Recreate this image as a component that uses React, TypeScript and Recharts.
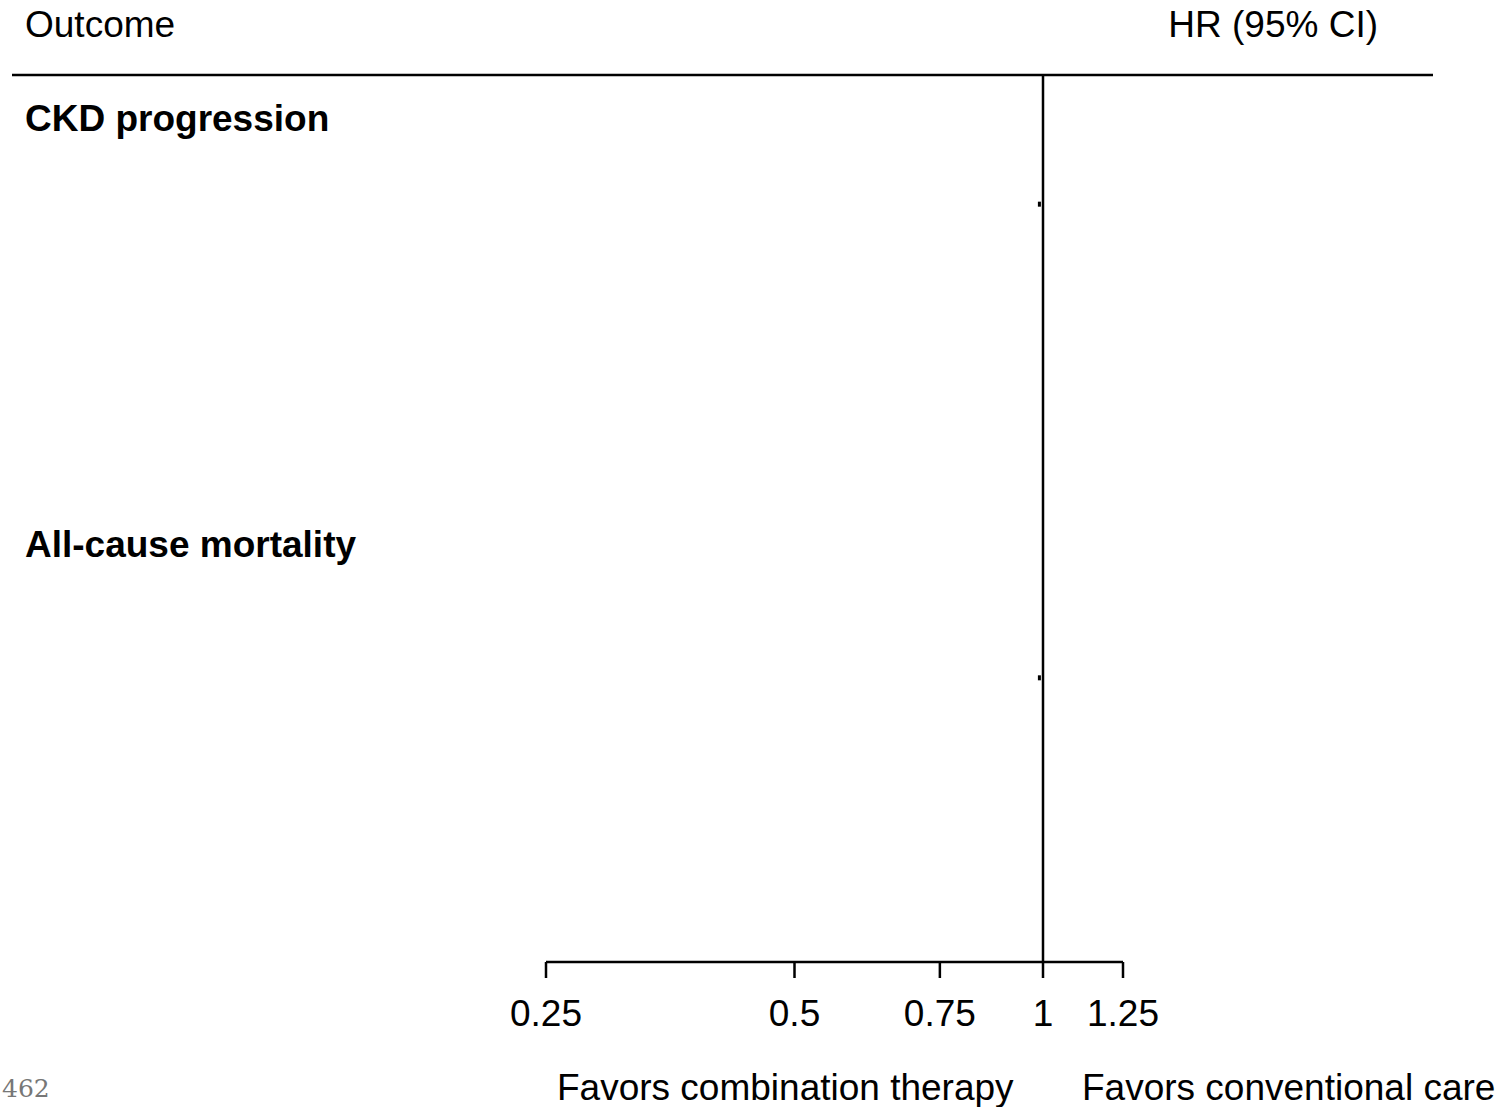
import { ScatterChart, Scatter, XAxis, YAxis, ReferenceLine } from 'recharts'

// Outcome rows (row index counted from the first header row)
const outcomes = ['CKD progression', 'All-cause mortality']
const headerRows = [0, 9.9]
const estimateRows = [2, 13]
const hazardRatios = [0.99, 0.99]
const xTicks = [0.25, 0.5, 0.75, 1, 1.25]

const points = outcomes.map((o, i) => ({ outcome: o, row: estimateRows[i], hr: hazardRatios[i] }))

const FONT = '"Liberation Sans", Arial, Helvetica, sans-serif'

function TinyMark(props: any) {
  const { cx, cy } = props
  if (cx == null || cy == null) return null
  return <rect x={cx - 1.5} y={cy - 2.5} width={3} height={5} fill="#000" />
}

export default function App() {
  const rowY = (r: number) => 75 + (r + 1) * (887 / 20.6)
  return (
    <div style={{ position: 'absolute', left: 0, top: 0, width: 1503, height: 1107, background: '#fff', overflow: 'hidden' }}>
      <ScatterChart
        width={1503}
        height={1107}
        margin={{ top: 75, right: 380, bottom: 85, left: 546 }}
      >
        <XAxis
          type="number"
          dataKey="hr"
          scale="log"
          domain={[0.25, 1.25]}
          allowDataOverflow
          ticks={xTicks}
          height={60}
          axisLine={{ stroke: '#000', strokeWidth: 2.5 }}
          tickLine={{ stroke: '#000', strokeWidth: 2.5 }}
          tickSize={16}
          tickMargin={22}
          tick={{ fill: '#000', fontSize: 37, fontFamily: FONT }}
        />
        <YAxis type="number" dataKey="row" domain={[-1, 19.6]} reversed hide />
        <ReferenceLine x={1} stroke="#000" strokeWidth={2.5} />
        <Scatter data={points} isAnimationActive={false} shape={TinyMark} />
      </ScatterChart>
      <svg
        width={1503}
        height={1107}
        style={{ position: 'absolute', left: 0, top: 0, pointerEvents: 'none' }}
        fontFamily={FONT}
      >
        <line x1={12} x2={1433} y1={75} y2={75} stroke="#000" strokeWidth={2.5} />
        <text x={25} y={37} fontSize={37} fill="#000">Outcome</text>
        <text x={1378} y={37} fontSize={37} fill="#000" textAnchor="end">HR (95% CI)</text>
        {outcomes.map((o, i) => (
          <text key={o} x={25} y={rowY(headerRows[i]) + 13} fontSize={37} fontWeight="bold" fill="#000">
            {o}
          </text>
        ))}
        <text x={557} y={1100} fontSize={37} fill="#000">Favors combination therapy</text>
        <text x={1082} y={1100} fontSize={37} fill="#000">Favors conventional care</text>
        <text x={2} y={1097} fontSize={25} fill="#777" fontFamily='"DejaVu Serif", serif'>462</text>
      </svg>
    </div>
  )
}
